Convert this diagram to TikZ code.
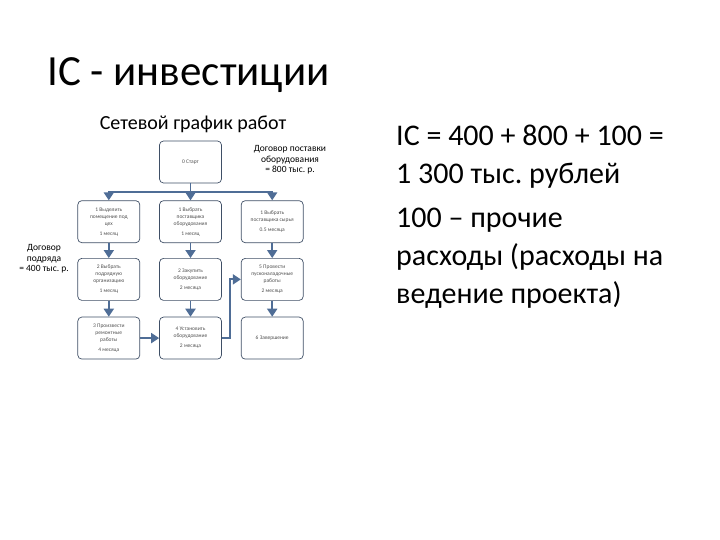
\documentclass[tikz,border=0pt]{standalone}
\usepackage{fontspec}
\setmainfont{Carlito}
\usetikzlibrary{positioning, arrows.meta}

\definecolor{flowblue}{HTML}{4F6D96}
\definecolor{boxline}{HTML}{3F4F66}
\definecolor{boxtext}{HTML}{505050}
\frenchspacing

\begin{document}
\begin{tikzpicture}[
		x=1pt, y=1pt,
		node distance=17pt and 19pt,
		stage/.style={rectangle, draw=boxline, line width=0.7pt, rounded corners=4pt, minimum width=62pt, minimum height=42pt, inner sep=1pt, align=center, text=boxtext, font=\fontsize{5.5}{7}\selectfont},
		flow/.style={draw=flowblue, line width=1.8pt, -{Triangle[width=10pt,length=8pt]}},
		note/.style={align=center, font=\fontsize{9.5}{10.5}\selectfont}
		]
		\useasboundingbox (0,0) rectangle (720,540);
		
		% Slide title and comments
		\node[anchor=base west, inner sep=0, font=\fontsize{43}{43}\selectfont] (title) at (47,454) {IC - инвестиции};
		\node[anchor=north west, inner sep=0, align=left, font=\fontsize{30}{38}\selectfont] (calc) at (396,415)
			{IC = 400 + 800 + 100 =\\1 300 тыс. рублей\\[6pt]100 – прочие\\расходы (расходы на\\ведение проекта)};
		
		% Network chart
		\node[font=\fontsize{20}{20}\selectfont] (chart) at (193,416) {Сетевой график работ};
		\node[stage] (start) at (190.5,378) {0 Старт};
		
		% First row
		\node[stage, below=of start] (buy) {1 Выбрать\\поставщика\\оборудования\\[3pt]1 месяц};
		\node[stage, left=of buy] (room) {1 Выделить\\помещение под\\цех\\[3pt]1 месяц};
		\node[stage, right=of buy] (supply) {1 Выбрать\\поставщика сырья\\[3pt]0.5 месяца};
		
		% Second row
		\node[stage, below=15pt of buy] (purchase) {2 Закупить\\оборудование\\[3pt]2 месяца};
		\node[stage, below=15pt of room] (contractor) {2 Выбрать\\подрядную\\организацию\\[3pt]1 месяц};
		\node[stage, below=15pt of supply] (setup) {5 Провести\\пусконаладочные\\работы\\[3pt]2 месяца};
		
		% Third row
		\node[stage, below=16pt of purchase] (install) {4 Установить\\оборудование\\[3pt]2 месяца};
		\node[stage, below=16pt of contractor] (repair) {3 Произвести\\ремонтные\\работы\\[3pt]4 месяца};
		\node[stage, below=16pt of setup] (finish) {6 Завершение};
		
		% Contracts
		\node[note] (supplydeal) at (290,380) {Договор поставки\\оборудования\\= 800 тыс. р.};
		\node[note] (repairdeal) at (44,281) {Договор\\подряда\\= 400 тыс. р.};
		
		% Connections
		\path[flow] (start.south) -- ++(0,-9) -| (room.north);
		\path[flow] (start.south) -- (buy.north);
		\path[flow] (start.south) -- ++(0,-9) -| (supply.north);
		
		\path[flow] (room) -- (contractor);
		\path[flow] (contractor) -- (repair);
		\path[flow] (buy) -- (purchase);
		\path[flow] (purchase) -- (install);
		\path[flow] (supply) -- (setup);
		\path[flow] (setup) -- (finish);
		
		\path[flow] (repair) -- (install);
		\path[flow] (install.east) -- ++(8,0) |- (setup.west);
		
	\end{tikzpicture}
\end{document}
